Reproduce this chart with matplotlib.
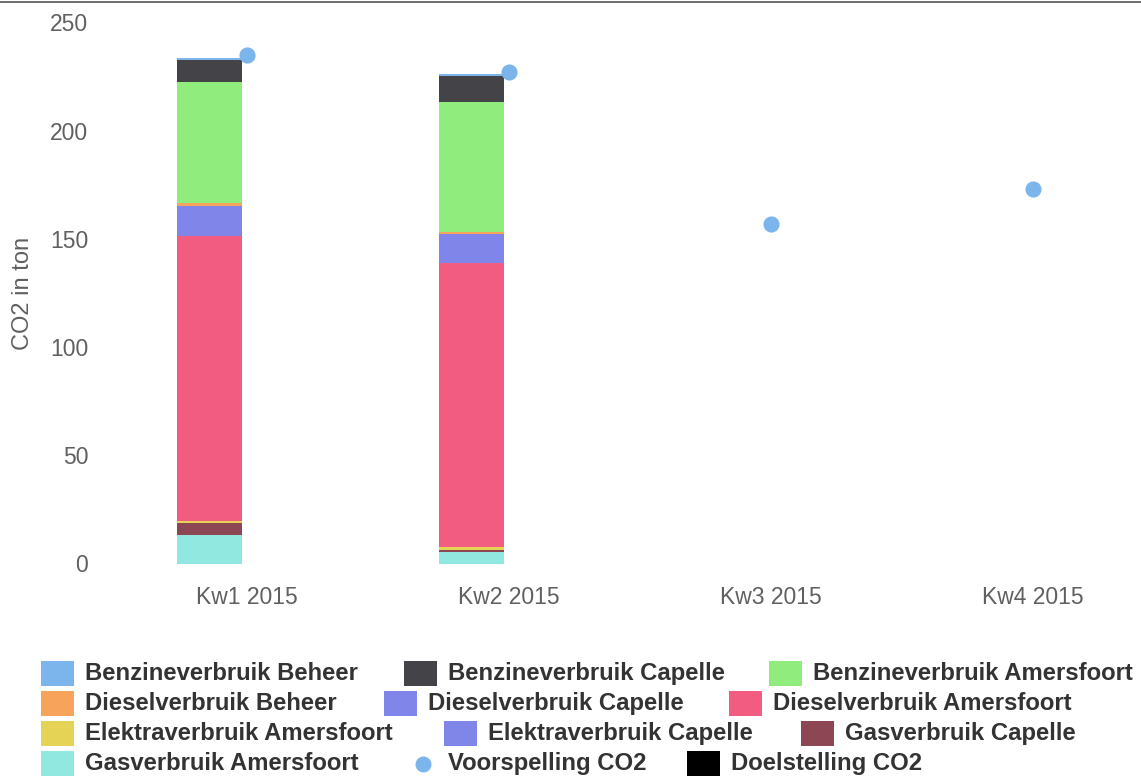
import numpy as np
import matplotlib
matplotlib.use("Agg")
import matplotlib.pyplot as plt
from matplotlib.patches import Rectangle
from matplotlib.lines import Line2D

plt.rcParams['font.family'] = ['Liberation Sans', 'DejaVu Sans']

# ---------------- data ----------------
categories = ["Kw1 2015", "Kw2 2015", "Kw3 2015", "Kw4 2015"]

# stacked series (listed top -> bottom as in the legend order)
series_names = [
    "Benzineverbruik Beheer", "Benzineverbruik Capelle", "Benzineverbruik Amersfoort",
    "Dieselverbruik Beheer", "Dieselverbruik Capelle", "Dieselverbruik Amersfoort",
    "Elektraverbruik Amersfoort", "Elektraverbruik Capelle", "Gasverbruik Capelle",
    "Gasverbruik Amersfoort",
]
benzine_beheer = [1.0, 0.8, np.nan, np.nan]
benzine_capelle = [10.2, 12.0, np.nan, np.nan]
benzine_amersfoort = [55.5, 60.0, np.nan, np.nan]
diesel_beheer = [1.8, 1.0, np.nan, np.nan]
diesel_capelle = [13.5, 13.4, np.nan, np.nan]
diesel_amersfoort = [132.0, 131.5, np.nan, np.nan]
elektra_amersfoort = [1.0, 1.0, np.nan, np.nan]
elektra_capelle = [0.0, 0.0, np.nan, np.nan]
gas_capelle = [5.5, 0.9, np.nan, np.nan]
gas_amersfoort = [13.0, 5.5, np.nan, np.nan]

voorspelling_co2 = [235.0, 227.0, 157.0, 173.0]

series_values = [
    benzine_beheer, benzine_capelle, benzine_amersfoort,
    diesel_beheer, diesel_capelle, diesel_amersfoort,
    elektra_amersfoort, elektra_capelle, gas_capelle, gas_amersfoort,
]
series_colors = [
    "#7cb5ec", "#434348", "#90ed7d",
    "#f7a35c", "#8085e9", "#f15c80",
    "#e4d354", "#8085e8", "#8d4653", "#91e8e1",
]

yticks = [0, 50, 100, 150, 200, 250]

# ---------------- figure ----------------
W, H = 1141, 778
fig = plt.figure(figsize=(W / 100, H / 100), dpi=100)

ax_left, ax_right = 116, 1141
ax_top, ax_bottom = 22.5, 563.5
ax = fig.add_axes([ax_left / W, 1 - ax_bottom / H, (ax_right - ax_left) / W, (ax_bottom - ax_top) / H])

x = np.arange(len(categories))
bar_offset = -0.143
bar_width = 0.248

bottom = np.zeros(len(categories))
for name, vals, col in reversed(list(zip(series_names, series_values, series_colors))):
    v = np.nan_to_num(np.array(vals, dtype=float))
    ax.bar(x + bar_offset, v, bar_width, bottom=bottom, color=col, linewidth=0, zorder=2)
    bottom += v

ax.scatter(x, voorspelling_co2, s=135, color="#7cb5ec", zorder=3, linewidths=0)

ax.set_xlim(-0.5, -0.5 + (ax_right - ax_left) / 262.0)
ax.set_ylim(0, 250)
ax.set_xticks(x)
ax.set_xticklabels(categories)
ax.set_yticks(yticks)
ax.set_yticklabels([str(t) for t in yticks])
for s in ax.spines.values():
    s.set_visible(False)
ax.tick_params(axis='both', length=0, labelsize=16.5, labelcolor="#606060")
ax.tick_params(axis='y', pad=20)
ax.tick_params(axis='x', pad=16)
ylab = ax.set_ylabel("CO2 in ton", fontsize=17, color="#606060")
ylab.set_verticalalignment('center')
ax.yaxis.set_label_coords((23 - ax_left) / (ax_right - ax_left), 0.5)

# top border line
fig.add_artist(Line2D([0, 1], [1 - 1.5 / H, 1 - 1.5 / H], transform=fig.transFigure, color="#555555", linewidth=1.2))

# ---------------- legend (flow layout like the original) ----------------
legend_rows = [
    [("Benzineverbruik Beheer", "#7cb5ec", "sq", 41), ("Benzineverbruik Capelle", "#434348", "sq", 404),
     ("Benzineverbruik Amersfoort", "#90ed7d", "sq", 769)],
    [("Dieselverbruik Beheer", "#f7a35c", "sq", 41), ("Dieselverbruik Capelle", "#8085e9", "sq", 384),
     ("Dieselverbruik Amersfoort", "#f15c80", "sq", 729)],
    [("Elektraverbruik Amersfoort", "#e4d354", "sq", 41), ("Elektraverbruik Capelle", "#8085e8", "sq", 444),
     ("Gasverbruik Capelle", "#8d4653", "sq", 801)],
    [("Gasverbruik Amersfoort", "#91e8e1", "sq", 41), ("Voorspelling CO2", "#7cb5ec", "dot", 415),
     ("Doelstelling CO2", "#000000", "sq", 687)],
]
row_centers = [673.5, 703.5, 733.5, 763.5]
sq_w, sq_h = 33, 25
for row, yc in zip(legend_rows, row_centers):
    for label, col, kind, xl in row:
        if kind == "sq":
            fig.add_artist(Rectangle((xl / W, 1 - (yc + sq_h / 2) / H), sq_w / W, sq_h / H,
                                     transform=fig.transFigure, facecolor=col, edgecolor="none"))
            tx = xl + 44
        else:
            fig.add_artist(Line2D([(xl + 8) / W], [1 - yc / H], transform=fig.transFigure,
                                  marker='o', markersize=11.5, color=col, markeredgewidth=0, linestyle='none'))
            tx = xl + 33
        fig.text(tx / W, 1 - yc / H, label, fontsize=17.2, fontweight='bold',
                 color="#333333", va='center', ha='left')

fig.savefig("out.png", dpi=100)
